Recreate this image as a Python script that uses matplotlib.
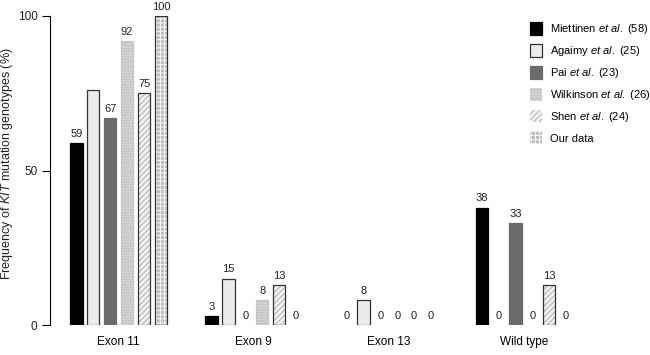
import numpy as np
import matplotlib
matplotlib.use("Agg")
import matplotlib.pyplot as plt

plt.rcParams["font.family"] = ["Liberation Sans", "DejaVu Sans"]
plt.rcParams["mathtext.fontset"] = "custom"
plt.rcParams["mathtext.rm"] = "Liberation Sans"
plt.rcParams["mathtext.it"] = "Liberation Sans:italic"
plt.rcParams["hatch.linewidth"] = 0.8

groups = ["Exon 11", "Exon 9", "Exon 13", "Wild type"]
series = ["Miettinen", "Agaimy", "Pai", "Wilkinson", "Shen", "Our data"]
legend_labels = [r"Miettinen $\it{et\ al.}$ (58)", r"Agaimy $\it{et\ al.}$ (25)",
                 r"Pai $\it{et\ al.}$ (23)", r"Wilkinson $\it{et\ al.}$ (26)",
                 r"Shen $\it{et\ al.}$ (24)", "Our data"]
values = {
    "Miettinen": [59, 3, 0, 38],
    "Agaimy":    [76, 15, 8, 0],
    "Pai":       [67, 0, 0, 33],
    "Wilkinson": [92, 8, 0, 0],
    "Shen":      [75, 13, 0, 13],
    "Our data":  [100, 0, 0, 0],
}
# Agaimy's exon 11 value has no printed label in the source
hide_label = {("Agaimy", 0)}

styles = {
    "Miettinen": dict(fc="#000000", hatch=None, hc=None, ec="#000000"),
    "Agaimy":    dict(fc="#ebebeb", hatch=None, hc=None, ec="#333333"),
    "Pai":       dict(fc="#6b6b6b", hatch=None, hc=None, ec="#6b6b6b"),
    "Wilkinson": dict(fc="#c4c4c4", hatch="......", hc="#e6e6e6", ec="#c4c4c4"),
    "Shen":      dict(fc="#f2f2f2", hatch="//////", hc="#b5b5b5", ec="#333333"),
    "Our data":  dict(fc="#bcbcbc", hatch="++++", hc="#f4f4f4", ec="#333333"),
}

fig = plt.figure(figsize=(6.5, 3.55), dpi=100)
ax = fig.add_axes([50 / 650, 30 / 355, 560 / 650, 309 / 355])

width = 0.72
for i, s in enumerate(series):
    st = styles[s]
    x = np.arange(len(groups)) * 8 + i
    vals = values[s]
    if st["hatch"]:
        b1 = ax.bar(x, vals, width, color=st["fc"], edgecolor=st["hc"], hatch=st["hatch"], linewidth=0)
        b2 = ax.bar(x, vals, width, fill=False, edgecolor=st["ec"], linewidth=0.9)
        bars = list(b1) + list(b2)
    else:
        bars = list(ax.bar(x, vals, width, color=st["fc"], edgecolor=st["ec"], linewidth=0.9))
    for p in bars:
        if p.get_height() == 0:
            p.set_visible(False)
    for j, (xx, v) in enumerate(zip(x, vals)):
        if (s, j) in hide_label:
            continue
        ax.annotate(str(v), (xx, v), xytext=(0, 3), textcoords="offset points",
                    ha="center", va="bottom", fontsize=8, color="#222222", annotation_clip=False)

# legend handles
handles = []
for s in series:
    st = styles[s]
    if st["hatch"]:
        h = plt.Rectangle((0, 0), 1, 1, facecolor=st["fc"], edgecolor=st["hc"], hatch=st["hatch"], linewidth=0)
    else:
        h = plt.Rectangle((0, 0), 1, 1, facecolor=st["fc"], edgecolor=st["ec"], linewidth=0.9)
    handles.append(h)
ax.legend(handles, legend_labels, loc="upper left", bbox_to_anchor=(520 / 650, 1 - 12 / 355),
          bbox_transform=fig.transFigure, frameon=False, fontsize=8,
          handlelength=1.1, handleheight=1.4, labelspacing=0.7, handletextpad=0.7)

ax.set_xlim(-1.57, 31.6)
ax.set_ylim(0, 100)
ax.set_xticks(np.arange(len(groups)) * 8 + 2.5)
ax.set_xticklabels(groups, fontsize=8.5)
ax.tick_params(axis="x", length=0, pad=8)
ax.set_yticks([0, 50, 100])
ax.tick_params(axis="y", labelsize=8.5, length=6, width=0.8, direction="out", pad=3,
               labelcolor="#222222")
for sp in ["top", "right", "bottom"]:
    ax.spines[sp].set_visible(False)
ax.spines["left"].set_linewidth(0.8)
fig.text(7 / 650, 1 - 164 / 355, r"Frequency of $\it{KIT}$ mutation genotypes (%)",
         rotation=90, ha="center", va="center", fontsize=9, color="#222222")

fig.savefig("out.png", dpi=100)
